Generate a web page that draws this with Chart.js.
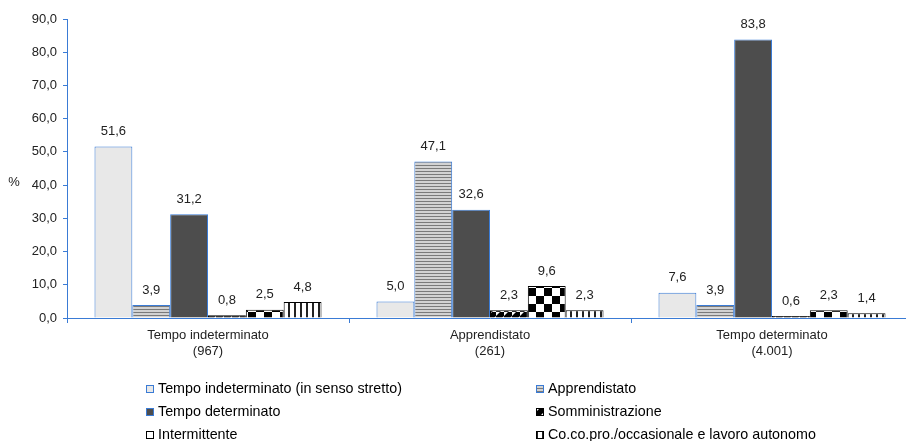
<!DOCTYPE html>
<html>
<head>
<meta charset="utf-8">
<script src="https://cdn.jsdelivr.net/npm/chart.js@4/dist/chart.umd.min.js"></script>
<style>
  html, body { margin: 0; padding: 0; background: #fff; overflow: hidden; }
  #wrap { width: 906px; height: 441px; overflow: hidden; }
</style>
</head>
<body>
<div id="wrap"><canvas id="chart" width="914" height="441" style="width:914px;height:441px"></canvas></div>
<script>
var categories = [['Tempo indeterminato', '(967)'], ['Apprendistato', '(261)'], ['Tempo determinato', '(4.001)']];
var seriesNames = [
  'Tempo indeterminato (in senso stretto)',
  'Apprendistato',
  'Tempo determinato',
  'Somministrazione',
  'Intermittente',
  'Co.co.pro./occasionale e lavoro autonomo'
];
var tempoIndeterminato = [51.6, 5.0, 7.6];
var apprendistato = [3.9, 47.1, 3.9];
var tempoDeterminato = [31.2, 32.6, 83.8];
var somministrazione = [0.8, 2.3, 0.6];
var intermittente = [2.5, 9.6, 2.3];
var cocopro = [4.8, 2.3, 1.4];
var yTicks = [0, 10, 20, 30, 40, 50, 60, 70, 80, 90];

var blue = '#3a7bd5';
var font = 'Arial, "Liberation Sans", sans-serif';

var canvas = document.getElementById('chart');
var ctx = canvas.getContext('2d');

function makePattern(w, h, draw) {
  var c = document.createElement('canvas');
  c.width = w;
  c.height = h;
  var p = c.getContext('2d');
  p.fillStyle = '#ffffff';
  p.fillRect(0, 0, w, h);
  draw(p);
  return ctx.createPattern(c, 'repeat');
}

// righe orizzontali grigie
var hStripes = makePattern(3, 3, function (p) {
  p.fillStyle = '#d2d2d2';
  p.fillRect(0, 0, 3, 3);
  p.fillStyle = '#7a7a7a';
  p.fillRect(0, 0, 3, 1);
});

// diagonali nere spesse
var diagonal = makePattern(8, 8, function (p) {
  p.fillStyle = '#000';
  p.beginPath();
  p.moveTo(0, 8); p.lineTo(4, 8); p.lineTo(8, 4); p.lineTo(8, 0); p.lineTo(4, 0); p.lineTo(0, 4);
  p.closePath();
  p.fill();
});

// scacchiera
var checker = makePattern(16, 16, function (p) {
  p.fillStyle = '#000';
  p.fillRect(0, 0, 8, 8);
  p.fillRect(8, 8, 8, 8);
});

// righe verticali
var vStripes = makePattern(6, 6, function (p) {
  p.fillStyle = '#222';
  p.fillRect(0, 0, 2, 6);
});

var fills = ['#e8e8e8', hStripes, '#4d4d4d', diagonal, checker, vStripes];
var borders = [blue, blue, blue, '#000', '#000', '#000'];
var swatchShift = [0, 0, 0, 0, 8, 0];
var values = [tempoIndeterminato, apprendistato, tempoDeterminato, somministrazione, intermittente, cocopro];

function fmt(v) {
  return v.toFixed(1).replace('.', ',');
}

var datasets = values.map(function (vals, i) {
  return {
    label: seriesNames[i],
    data: vals,
    backgroundColor: fills[i],
    borderColor: borders[i],
    borderWidth: 1,
    barPercentage: 1,
    categoryPercentage: 0.805
  };
});

var valueLabels = {
  id: 'valueLabels',
  afterDatasetsDraw: function (chart) {
    var c = chart.ctx;
    c.save();
    c.font = '13px ' + font;
    c.fillStyle = '#222';
    c.textAlign = 'center';
    c.textBaseline = 'middle';
    chart.data.datasets.forEach(function (ds, i) {
      chart.getDatasetMeta(i).data.forEach(function (bar, j) {
        c.fillText(fmt(ds.data[j]), bar.x, bar.y - 15);
      });
    });
    c.restore();
  }
};

var extras = {
  id: 'extras',
  afterDraw: function (chart) {
    var c = chart.ctx;
    c.save();
    // titolo asse y
    c.font = '13px ' + font;
    c.fillStyle = '#222';
    c.textAlign = 'center';
    c.textBaseline = 'middle';
    c.fillText('%', 14, 182);

    // legenda a due colonne
    var colX = [146, 536];
    var rowY = [389, 412, 435];
    c.font = '14.3px ' + font;
    c.textAlign = 'left';
    chart.data.datasets.forEach(function (ds, i) {
      var x = colX[i % 2];
      var y = rowY[Math.floor(i / 2)];
      c.save();
      c.translate(x - swatchShift[i], y - 4);
      c.fillStyle = ds.backgroundColor;
      c.fillRect(swatchShift[i], 0, 8, 8);
      c.restore();
      c.strokeStyle = ds.borderColor;
      c.lineWidth = 1;
      c.strokeRect(x + 0.5, y - 3.5, 7, 7);
      c.fillStyle = '#000';
      c.fillText(ds.label, x + 12, y);
    });
    c.restore();
  }
};

new Chart(ctx, {
  type: 'bar',
  data: {
    labels: categories,
    datasets: datasets
  },
  options: {
    responsive: false,
    animation: false,
    layout: { padding: { top: 19, left: 0, right: 1, bottom: 63 } },
    plugins: {
      legend: { display: false },
      tooltip: { enabled: false }
    },
    scales: {
      x: {
        grid: {
          display: true,
          drawOnChartArea: false,
          offset: true,
          color: blue,
          tickLength: 5
        },
        border: { color: blue, width: 1 },
        ticks: {
          color: '#222',
          font: { family: font, size: 13, lineHeight: 1.2 },
          padding: 5,
          maxRotation: 0
        },
        afterFit: function (scale) { scale.height = 60; }
      },
      y: {
        min: 0,
        max: 90,
        afterBuildTicks: function (scale) {
          scale.ticks = yTicks.map(function (v) { return { value: v }; });
        },
        grid: {
          display: true,
          drawOnChartArea: false,
          color: blue,
          tickLength: 4
        },
        border: { color: blue, width: 1 },
        ticks: {
          color: '#222',
          font: { family: font, size: 13 },
          padding: 6,
          callback: function (v) { return fmt(v); }
        },
        afterFit: function (scale) { scale.width = 67; }
      }
    }
  },
  plugins: [valueLabels, extras]
});
</script>
</body>
</html>
